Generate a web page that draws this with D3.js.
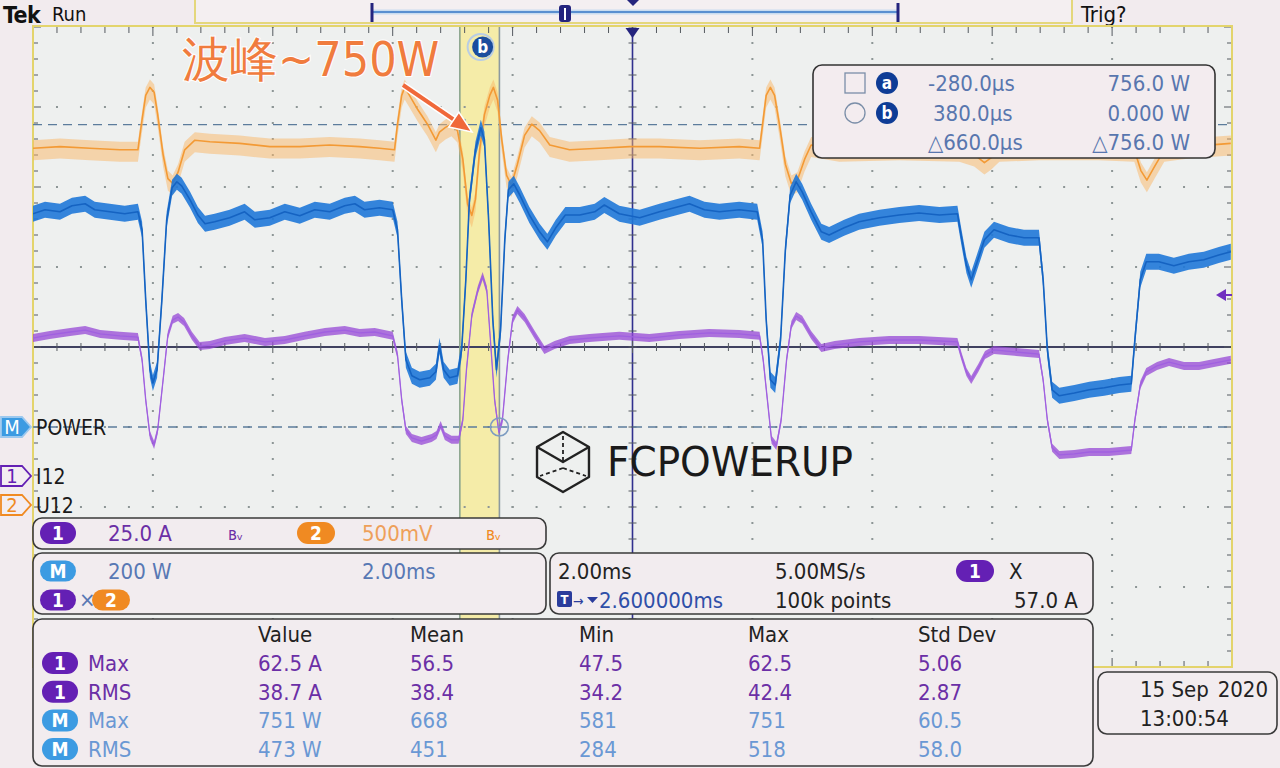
<!DOCTYPE html>
<html><head><meta charset="utf-8">
<script src="https://cdn.jsdelivr.net/npm/d3@7/dist/d3.min.js"></script>
<style>
html,body{margin:0;padding:0;background:#f2ebee;}
svg{display:block;}
text{font-family:"DejaVu Sans Condensed","DejaVu Sans",sans-serif;}
</style></head><body>
<svg id="scope" width="1280" height="768"></svg>
<script>
// ================= DATA =================
// time in ms relative to trigger; values in channel units
const ch1Time=[-7.40,-7.12,-6.78,-6.53,-6.28,-5.95,-5.65,-5.58,-5.52,-5.45,-5.38,-5.32,-5.23,-5.15,-5.07,-4.98,-4.88,-4.75,-4.62,-4.45,-4.20,-3.87,-3.53,-3.20,-2.87,-2.53,-2.20,-1.95,-1.70,-1.40,-1.32,-1.25,-1.18,-1.08,-0.92,-0.75,-0.67,-0.60,-0.53,-0.42,-0.30,-0.23,-0.17,-0.08,0.02,0.10,0.17,0.23,0.30,0.37,0.43,0.52,0.60,0.68,0.80,0.97,1.13,1.30,1.55,1.88,2.38,2.88,3.38,3.88,4.38,4.72,4.78,4.85,4.92,5.00,5.08,5.17,5.25,5.33,5.43,5.58,5.75,5.97,6.38,6.88,7.38,8.02,8.08,8.17,8.25,8.37,8.48,8.63,8.97,9.38,9.45,9.52,9.60,9.72,9.97,10.22,10.55,10.92,10.98,11.07,11.17,11.35,11.55,11.80,12.05,12.30,12.58];
const ch1Amps=[43.1,44.1,45.0,45.6,44.4,43.8,43.4,36.3,23.8,12.8,9.7,14.4,30.0,44.1,48.8,49.7,48.1,43.8,40.6,40.9,42.2,43.1,41.9,42.5,43.8,45.0,45.6,44.7,45.0,43.8,37.8,23.8,14.4,11.9,10.9,11.9,12.8,15.9,12.5,11.3,11.3,17.5,33.1,50.3,58.1,62.5,58.1,42.5,23.8,13.8,17.5,36.3,48.8,51.9,49.4,44.1,39.4,40.9,42.5,43.1,43.8,43.1,44.1,44.7,44.4,43.8,36.3,23.8,11.3,9.4,17.5,36.3,47.2,50.0,48.8,44.1,40.0,40.9,41.9,42.5,42.5,41.9,37.8,32.5,30.0,33.8,37.8,39.4,38.8,38.1,30.0,17.5,8.8,6.6,6.9,7.5,7.5,8.1,17.5,28.4,32.5,34.4,35.6,34.4,34.4,35.3,36.3];
const ch2Time=[-7.40,-6.95,-6.45,-5.95,-5.65,-5.58,-5.52,-5.45,-5.38,-5.32,-5.23,-5.15,-5.07,-4.98,-4.87,-4.70,-4.45,-3.95,-3.45,-2.95,-2.45,-1.95,-1.62,-1.37,-1.32,-1.25,-1.20,-1.12,-0.98,-0.82,-0.68,-0.62,-0.52,-0.42,-0.32,-0.23,-0.15,-0.08,-0.02,0.05,0.13,0.22,0.28,0.35,0.42,0.50,0.58,0.68,0.80,0.92,1.05,1.22,1.55,2.05,2.55,3.05,3.72,4.38,4.72,4.78,4.83,4.90,4.97,5.05,5.15,5.25,5.35,5.47,5.58,6.05,7.05,8.05,8.30,8.47,8.58,8.72,9.38,10.38,10.97,11.08,11.18,11.30,11.47,11.88,12.58];
const ch2Volts=[2.23,2.24,2.23,2.22,2.22,2.41,2.56,2.61,2.58,2.44,2.19,2.04,2.01,2.08,2.22,2.28,2.27,2.26,2.24,2.24,2.25,2.24,2.23,2.22,2.38,2.56,2.61,2.56,2.47,2.38,2.28,2.33,2.36,2.38,2.34,2.16,1.88,1.81,1.91,2.22,2.44,2.56,2.61,2.53,2.28,2.06,2.00,2.13,2.31,2.38,2.34,2.25,2.22,2.23,2.24,2.24,2.23,2.24,2.23,2.41,2.56,2.61,2.56,2.38,2.13,2.01,2.03,2.16,2.25,2.22,2.23,2.22,2.19,2.14,2.17,2.22,2.23,2.23,2.22,2.09,2.03,2.11,2.22,2.24,2.26];
const mathTime=[-7.40,-7.20,-6.95,-6.75,-6.53,-6.37,-6.12,-5.87,-5.65,-5.58,-5.52,-5.45,-5.40,-5.33,-5.25,-5.17,-5.08,-5.00,-4.92,-4.78,-4.65,-4.53,-4.37,-4.12,-3.87,-3.70,-3.45,-3.20,-2.95,-2.70,-2.45,-2.20,-2.03,-1.87,-1.62,-1.40,-1.32,-1.25,-1.18,-1.08,-0.95,-0.78,-0.68,-0.62,-0.55,-0.45,-0.32,-0.25,-0.18,-0.12,-0.02,0.07,0.13,0.20,0.27,0.33,0.40,0.47,0.53,0.62,0.72,0.88,1.05,1.18,1.32,1.48,1.72,1.97,2.13,2.38,2.72,3.05,3.30,3.55,3.80,4.05,4.38,4.68,4.77,4.83,4.90,4.98,5.07,5.15,5.23,5.33,5.43,5.58,5.75,5.88,6.13,6.38,6.72,7.05,7.38,7.72,8.02,8.08,8.17,8.25,8.35,8.47,8.63,8.88,9.13,9.38,9.45,9.52,9.60,9.72,9.97,10.22,10.47,10.72,10.92,10.98,11.07,11.17,11.38,11.63,11.88,12.13,12.38,12.58];
const mathWatts=[533,543,538,553,558,543,538,533,538,493,318,143,110,143,318,518,598,613,603,568,530,508,513,523,538,518,523,538,528,543,538,553,558,543,548,543,493,318,168,128,118,123,138,203,143,123,128,193,368,568,693,748,718,518,268,143,243,468,593,608,580,530,488,463,498,530,530,538,555,533,523,538,548,558,543,538,543,538,468,268,118,105,218,443,580,613,588,538,488,480,498,513,523,530,535,530,533,480,405,368,413,468,493,480,473,473,368,193,93,78,85,93,98,105,108,218,368,413,413,403,413,418,430,438];

const timeDomain=[-7.4,12.6];           // ms across screen (10 div x 2 ms)
const ch1PerDiv=25, ch1Offset=-1.6125;   // A/div, div
const ch2PerDiv=0.5, ch2Offset=-1.975;   // V/div
const mathPerDiv=200, mathOffset=-1.0;   // W/div
const cursorTimes=[-0.28,0.38];
const cursorWatts=[756,0];
const cursorRows=[["-280.0µs","756.0 W"],["380.0µs","0.000 W"],["△660.0µs","△756.0 W"]];
const measureHeaders=["Value","Mean","Min","Max","Std Dev"];
const measureLabels=[["1","Max"],["1","RMS"],["M","Max"],["M","RMS"]];
const measureValues=[["62.5 A","56.5","47.5","62.5","5.06"],["38.7 A","38.4","34.2","42.4","2.87"],["751 W","668","581","751","60.5"],["473 W","451","284","518","58.0"]];
const channelLabels=["POWER","I12","U12"];
const annotationText="波峰~750W";

// ================= SETUP =================
const svg=d3.select("#scope");
const P={x0:33,x1:1232,y0:27,y1:667};
const x=d3.scaleLinear().domain(timeDomain).range([P.x0,P.x1]);
const divY=d3.scaleLinear().domain([-4,4]).range([P.y1,P.y0]);
const chScale=(pd,off)=>d3.scaleLinear().domain([(-4-off)*pd,(4-off)*pd]).range([P.y1,P.y0]);
const yI=chScale(ch1PerDiv,ch1Offset), yV=chScale(ch2PerDiv,ch2Offset), yP=chScale(mathPerDiv,mathOffset);
const FS=22;

const C={purple:"#6420b4",purpleTxt:"#6b2fa6",orange:"#f08a22",orangeTxt:"#eea05a",blueM:"#3c9be2",blueTxt:"#5878b4",mTxt:"#6a98d4",navy:"#24247e",dark:"#222"};

// top bar
svg.append("text").attr("x",3).attr("y",23).attr("font-family","Liberation Sans, Arial").attr("font-weight","bold").attr("font-size",23).attr("letter-spacing",-0.5).attr("fill","#111").text("Tek");
svg.append("text").attr("x",52).attr("y",21).attr("font-size",20).attr("fill","#111").text("Run");
svg.append("text").attr("x",1081).attr("y",22).attr("font-size",22).attr("fill","#111").text("Trig?");
svg.append("rect").attr("x",195).attr("y",-3).attr("width",877).attr("height",26).attr("fill","#f4eff1").attr("stroke","#e4d77c").attr("stroke-width",2);
svg.append("line").attr("x1",372).attr("x2",898).attr("y1",12).attr("y2",12).attr("stroke","#c9dcf0").attr("stroke-width",5);
svg.append("line").attr("x1",372).attr("x2",898).attr("y1",12).attr("y2",12).attr("stroke","#5a8fd0").attr("stroke-width",2);
[372,898].forEach(v=>svg.append("line").attr("x1",v).attr("x2",v).attr("y1",3).attr("y2",22).attr("stroke",C.navy).attr("stroke-width",3));
svg.append("rect").attr("x",559).attr("y",5).attr("width",12).attr("height",17).attr("rx",3).attr("fill",C.navy);
svg.append("line").attr("x1",565).attr("x2",565).attr("y1",8).attr("y2",20).attr("stroke","#fff").attr("stroke-width",2);
svg.append("path").attr("d","M627,0 L639,0 L633,6 Z").attr("fill",C.navy);

// plot background
const plot=svg.append("g");
plot.append("rect").attr("x",P.x0).attr("y",P.y0).attr("width",P.x1-P.x0).attr("height",P.y1-P.y0).attr("fill","#eef0ef");
svg.append("defs").append("clipPath").attr("id","clip").append("rect").attr("x",P.x0).attr("y",P.y0).attr("width",P.x1-P.x0).attr("height",P.y1-P.y0);

// cursor band
const ca=x(cursorTimes[0]), cb=x(cursorTimes[1]);
plot.append("rect").attr("x",ca).attr("y",P.y0).attr("width",cb-ca).attr("height",P.y1-P.y0).attr("fill","#f5eba0").attr("opacity",0.9);

// graticule dots
const majorX=d3.range(0,11).map(i=>x(timeDomain[0]+2*i));
const majorY=d3.range(-4,5).map(d=>divY(d));
const minorX=d3.range(0,51).map(i=>x(timeDomain[0]+0.4*i));
const minorY=d3.range(0,41).map(i=>divY(-4+0.2*i));
const dots=plot.append("g").attr("fill","#8d9696");
majorY.slice(1,-1).forEach((yy,k)=>{ if(k===3) return; minorX.forEach(xx=>dots.append("rect").attr("x",xx-1).attr("y",yy-1).attr("width",2).attr("height",2)); });
majorX.slice(1,-1).forEach((xx,k)=>{ if(k===4) return; minorY.forEach(yy=>dots.append("rect").attr("x",xx-1).attr("y",yy-1).attr("width",2).attr("height",2)); });

// center lines with ticks
const cy=divY(0), cx=x(timeDomain[0]+10);
plot.append("line").attr("x1",P.x0).attr("x2",P.x1).attr("y1",cy).attr("y2",cy).attr("stroke","#3f4160").attr("stroke-width",1.8);
plot.append("line").attr("x1",cx).attr("x2",cx).attr("y1",P.y0).attr("y2",P.y1).attr("stroke","#30308e").attr("stroke-width",1.6);
const ticks=plot.append("g").attr("stroke","#555a60").attr("stroke-width",1);
minorX.forEach((xx,i)=>{const L=i%5===0?6:4; ticks.append("line").attr("x1",xx).attr("x2",xx).attr("y1",cy-L).attr("y2",cy+L);
  ticks.append("line").attr("x1",xx).attr("x2",xx).attr("y1",P.y0).attr("y2",P.y0+(i%5===0?9:6));
  ticks.append("line").attr("x1",xx).attr("x2",xx).attr("y1",P.y1).attr("y2",P.y1-(i%5===0?9:6));});
minorY.forEach((yy,i)=>{ticks.append("line").attr("x1",cx-4).attr("x2",cx+4).attr("y1",yy).attr("y2",yy);
  ticks.append("line").attr("x1",P.x0).attr("x2",P.x0+(i%5===0?8:5)).attr("y1",yy).attr("y2",yy);
  ticks.append("line").attr("x1",P.x1).attr("x2",P.x1-(i%5===0?8:5)).attr("y1",yy).attr("y2",yy);});
plot.append("rect").attr("x",P.x0).attr("y",P.y0-1).attr("width",P.x1-P.x0).attr("height",P.y1-P.y0+1).attr("fill","none").attr("stroke","#e3d46c").attr("stroke-width",2);
svg.append("path").attr("d",`M${cx-7},${P.y0+1} L${cx+7},${P.y0+1} L${cx},${P.y0+11} Z`).attr("fill",C.navy);

// cursor dashed horizontals
cursorWatts.forEach(w=>plot.append("line").attr("x1",P.x0).attr("x2",P.x1).attr("y1",yP(w)).attr("y2",yP(w)).attr("stroke","#5c7c9c").attr("stroke-width",1.4).attr("stroke-dasharray","9,6"));
// cursor verticals
plot.append("line").attr("x1",ca).attr("x2",ca).attr("y1",P.y0).attr("y2",P.y1).attr("stroke","#8aa58e").attr("stroke-width",1.6);
plot.append("line").attr("x1",cb).attr("x2",cb).attr("y1",P.y0).attr("y2",P.y1).attr("stroke","#8c9aa0").attr("stroke-width",1.6);

// traces
const traces=svg.append("g").attr("clip-path","url(#clip)");
function trace(ts,vs,ys,hTop,hBot,fill,fillOp,core,coreW){
  const d=ts.map((t,i)=>({t,v:vs[i]})).filter(p=>p.v!==undefined);
  const area=d3.area().x(p=>x(p.t)).y0(p=>ys(p.v)-hTop).y1(p=>ys(p.v)+hBot);
  traces.append("path").attr("d",area(d)).attr("fill",fill).attr("opacity",fillOp);
  const line=d3.line().x(p=>x(p.t)).y(p=>ys(p.v));
  traces.append("path").attr("d",line(d)).attr("fill","none").attr("stroke",core).attr("stroke-width",coreW).attr("stroke-linejoin","round");
}
trace(ch2Time,ch2Volts,yV,8,12,"#f9b565",0.5,"#f39a35",1.6);
trace(ch1Time,ch1Amps,yI,4,4,"#9648d6",0.75,"#a060e0",1.3);
trace(mathTime,mathWatts,yP,8,8,"#1f78d8",0.9,"#1563c2",1.6);

// cursor markers
plot.append("rect").attr("x",ca-5).attr("y",yP(cursorWatts[0])-5).attr("width",10).attr("height",10).attr("fill","none").attr("stroke","#6a8aa8").attr("stroke-width",1.4);
svg.append("circle").attr("cx",cb).attr("cy",yP(cursorWatts[1])).attr("r",9).attr("fill","none").attr("stroke","#7d9cc2").attr("stroke-width",1.5);
svg.append("line").attr("x1",cb-9).attr("x2",cb+9).attr("y1",yP(0)).attr("y2",yP(0)).attr("stroke","#7d9cc2").attr("stroke-width",1.2);
svg.append("circle").attr("cx",(ca+cb)/2+1).attr("cy",47).attr("r",13).attr("fill","none").attr("stroke","#b9cde4").attr("stroke-width",2);
svg.append("circle").attr("cx",(ca+cb)/2+3).attr("cy",47).attr("r",10.5).attr("fill","#1b4d9e");
svg.append("text").attr("x",(ca+cb)/2+3).attr("y",53).attr("text-anchor","middle").attr("font-size",17).attr("font-weight","bold").attr("fill","#fff").text("b");

// right side off-screen marker
svg.append("path").attr("d","M1216,295 L1226,289 L1226,301 Z").attr("fill","#7030c0");
svg.append("line").attr("x1",1226).attr("x2",1232).attr("y1",295).attr("y2",295).attr("stroke","#7030c0").attr("stroke-width",2);

// annotation
svg.append("text").attr("x",182).attr("y",76).attr("font-family","Noto Sans CJK SC").attr("font-size",48).attr("fill","#f07c3e").attr("stroke","#fff").attr("stroke-width",2).attr("paint-order","stroke").text(annotationText);
(function(){const x1=403,y1=85,x2=472,y2=132;const dx=x2-x1,dy=y2-y1,l=Math.hypot(dx,dy),ux=dx/l,uy=dy/l;const bx=x2-22*ux,by=y2-22*uy;
 svg.append("line").attr("x1",x1).attr("y1",y1).attr("x2",bx).attr("y2",by).attr("stroke","#fff").attr("stroke-width",7);
 svg.append("line").attr("x1",x1).attr("y1",y1).attr("x2",bx+4*ux).attr("y2",by+4*uy).attr("stroke","#f0683a").attr("stroke-width",4);
 svg.append("path").attr("d",`M${x2},${y2} L${bx-9*uy},${by+9*ux} L${bx+9*uy},${by-9*ux} Z`).attr("fill","#f0683a").attr("stroke","#fff").attr("stroke-width",1.5);})();

// cursor readout box
svg.append("rect").attr("x",813).attr("y",65).attr("width",402).attr("height",93).attr("rx",9).attr("fill","#f3ecef").attr("stroke","#333").attr("stroke-width",1.6);
svg.append("rect").attr("x",845).attr("y",73).attr("width",20).attr("height",20).attr("fill","none").attr("stroke","#7a8ea8").attr("stroke-width",1.3);
svg.append("circle").attr("cx",855).attr("cy",113).attr("r",10).attr("fill","none").attr("stroke","#7a8ea8").attr("stroke-width",1.3);
[["a",83],["b",113]].forEach(([l,yy])=>{svg.append("circle").attr("cx",887).attr("cy",yy).attr("r",11).attr("fill","#0e3c96");
 svg.append("text").attr("x",887).attr("y",yy+6).attr("text-anchor","middle").attr("font-size",17).attr("font-weight","bold").attr("fill","#fff").text(l);});
cursorRows.forEach((r,i)=>{const yy=91+i*29.5;
 svg.append("text").attr("x",i===1?933:928).attr("y",yy).attr("font-size",FS).attr("fill","#5876ae").text(r[0]);
 svg.append("text").attr("x",1190).attr("y",yy).attr("text-anchor","end").attr("font-size",FS).attr("fill","#5876ae").text(r[1]);});

// left channel markers
function marker(yc,fill,stroke,label,txtFill){
  svg.append("path").attr("d",`M1,${yc-10} L22,${yc-10} L31,${yc} L22,${yc+10} L1,${yc+10} Z`).attr("fill",fill).attr("stroke",stroke).attr("stroke-width",1.8);
  svg.append("text").attr("x",12).attr("y",yc+7).attr("text-anchor","middle").attr("font-size",20).attr("fill",txtFill).text(label);
}
marker(yP(0),C.blueM,"#9cc8ee","M","#fff");
marker(yI(0),"#f3edf1",C.purple,"1",C.purple);
marker(yV(0),"#f3edf1",C.orange,"2",C.orange);
[yP(0),yI(0),yV(0)].forEach((yy,i)=>svg.append("text").attr("x",36).attr("y",yy+8).attr("font-size",21).attr("fill","#1a1a1a").text(channelLabels[i]));

// watermark
(function(){const g=svg.append("g").attr("stroke","#222").attr("stroke-width",2.4).attr("fill","none").attr("stroke-linejoin","round");
 const c=[563,462],r=30; const pts=d3.range(6).map(k=>{const a=Math.PI/180*(-90+60*k);return [c[0]+r*Math.cos(a),c[1]+r*Math.sin(a)];});
 g.append("path").attr("d","M"+pts.map(p=>p.join(",")).join("L")+"Z");
 g.append("path").attr("d",`M${pts[5][0]},${pts[5][1]} L${c[0]},${c[1]} L${pts[1][0]},${pts[1][1]}`);
 g.append("path").attr("d",`M${pts[0][0]},${pts[0][1]+4} L${c[0]},${c[1]}`).attr("stroke-dasharray","4,3").attr("stroke-width",1.8);
 g.append("path").attr("d",`M${c[0]},${c[1]+6} L${pts[4][0]+3},${pts[4][1]-1} M${c[0]},${c[1]+6} L${pts[2][0]-3},${pts[2][1]-1}`).attr("stroke-dasharray","4,3").attr("stroke-width",1.8);
 svg.append("text").attr("x",607).attr("y",476).attr("font-family","Lato, Noto Sans").attr("font-size",40).attr("fill","#1a1a1a").attr("textLength",246).attr("lengthAdjust","spacingAndGlyphs").text("FCPOWERUP");})();

// panels
function panel(x0,y0,w,h){svg.append("rect").attr("x",x0).attr("y",y0).attr("width",w).attr("height",h).attr("rx",9).attr("fill","#f2ecef").attr("stroke","#3a3a3a").attr("stroke-width",1.6);}
function pill(cxp,cyp,w,h,fill,label){svg.append("rect").attr("x",cxp-w/2).attr("y",cyp-h/2).attr("width",w).attr("height",h).attr("rx",h/2).attr("fill",fill);
 svg.append("text").attr("x",cxp).attr("y",cyp+7).attr("text-anchor","middle").attr("font-size",19).attr("font-weight","bold").attr("fill","#fff").text(label);}
function txt(xx,yy,s,fill,anchor){return svg.append("text").attr("x",xx).attr("y",yy).attr("font-size",FS).attr("fill",fill).attr("text-anchor",anchor||"start").text(s);}

panel(33,518,513,31);
pill(58,533,36,22,C.purple,"1"); txt(108,541,"25.0 A",C.purpleTxt);
svg.append("text").attr("x",228).attr("y",540).attr("font-size",17).attr("fill",C.purpleTxt).text("ʙᵥ");
pill(316,533,38,22,C.orange,"2"); txt(362,541,"500mV",C.orangeTxt);
svg.append("text").attr("x",486).attr("y",540).attr("font-size",17).attr("fill",C.orange).text("ʙᵥ");

panel(33,553,513,61);
pill(58,571,36,21,C.blueM,"M"); txt(108,579,"200 W",C.blueTxt); txt(362,579,"2.00ms",C.blueTxt);
pill(58,600,36,21,C.purple,"1"); txt(79,607,"×",C.blueTxt); pill(111,600,38,21,C.orange,"2");

panel(550,553,543,61);
txt(558,579,"2.00ms",C.dark); txt(775,579,"5.00MS/s",C.dark); pill(975,571,38,22,C.purple,"1"); txt(1009,579,"X",C.dark);
svg.append("rect").attr("x",557).attr("y",591).attr("width",15).attr("height",16).attr("rx",2).attr("fill","#2a3c9c");
svg.append("text").attr("x",564.5).attr("y",604).attr("text-anchor","middle").attr("font-size",13).attr("font-weight","bold").attr("fill","#fff").text("T");
svg.append("text").attr("x",573).attr("y",606).attr("font-size",14).attr("fill","#2a3c9c").text("→");
svg.append("path").attr("d","M587,597 L598,597 L592.5,603 Z").attr("fill","#2a3c9c");
txt(599,608,"2.600000ms","#2f4fa8"); txt(775,608,"100k points",C.dark); txt(1014,608,"57.0 A",C.dark);

panel(33,619,1060,147);
const colX=[258,410,579,748,918];
measureHeaders.forEach((h,i)=>txt(colX[i],642,h,C.dark));
measureLabels.forEach((l,r)=>{const yy=663+r*28.7; const isM=l[0]==="M"; const col=isM?C.mTxt:C.purpleTxt;
 pill(60,yy,36,22,isM?C.blueM:C.purple,l[0]); txt(88,yy+8,l[1],col);
 measureValues[r].forEach((v,i)=>txt(colX[i],yy+8,v,col));});

// date box
panel(1098,672,179,62);
txt(1140,697,"15 Sep",C.dark); txt(1268,697,"2020",C.dark,"end"); txt(1140,726,"13:00:54",C.dark);
</script></body></html>
